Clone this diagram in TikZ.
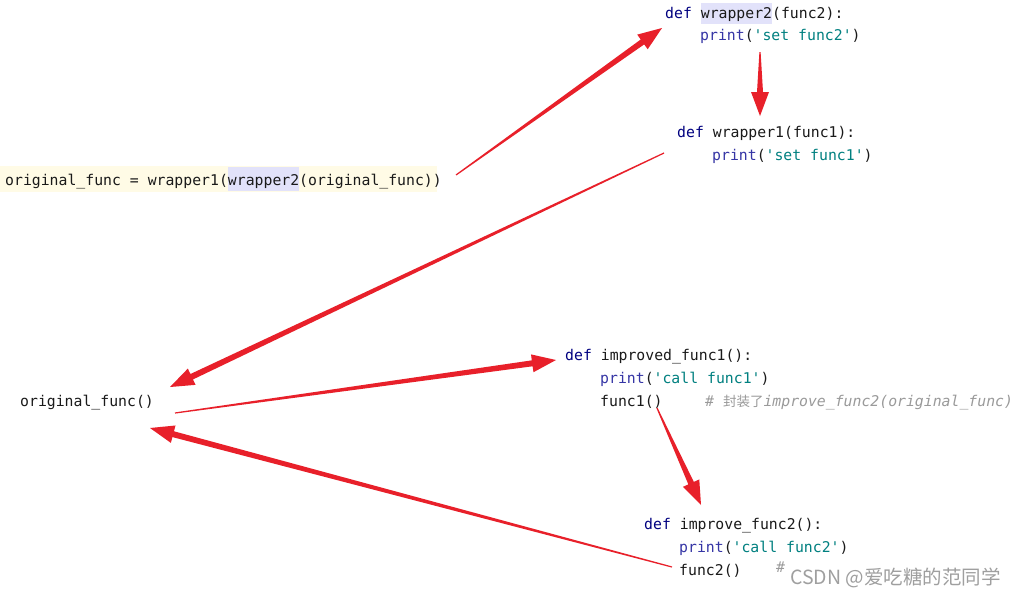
\documentclass[tikz,border=0pt]{standalone}
\usepackage{fontspec}
\setmonofont{DejaVu Sans Mono}
\newfontfamily\cjk{Noto Sans CJK SC}
\usetikzlibrary{calc}
\definecolor{kw}{HTML}{000080}
\definecolor{bi}{HTML}{3535A5}
\definecolor{st}{HTML}{008080}
\definecolor{cm}{HTML}{9A9A9A}
\definecolor{txt}{HTML}{1A1A1A}
\definecolor{hlY}{HTML}{FFFBE6}
\definecolor{hlL}{HTML}{E2E2FA}
\definecolor{arrowred}{HTML}{E8202A}
\newcommand\q{\char"27\relax}
\newcommand\hlbox[3]{{\setlength\fboxsep{0pt}\colorbox{hlL}{\rule[-#1]{0pt}{#2}#3}}}
\newcommand\taper[2]{%
  \coordinate (hb) at ($(#2)!24pt!(#1)$);
  \fill[arrowred] ($(#1)!0.6pt!90:(#2)$) -- ($(hb)!3pt!90:(#2)$) -- ($(hb)!9pt!90:(#2)$) -- (#2)
    -- ($(hb)!9pt!-90:(#2)$) -- ($(hb)!3pt!-90:(#2)$) -- ($(#1)!0.6pt!-90:(#2)$) -- cycle;}
\begin{document}
\begin{tikzpicture}[x=1pt,y=-1pt,
  code/.style={anchor=base west, inner sep=0pt, text=txt, font=\ttfamily\fontsize{14.8}{18}\selectfont},
  wm/.style={anchor=base west, inner sep=0pt, text=gray!75, font=\cjk\fontsize{19.5}{22}\selectfont}]
\useasboundingbox (0,0) rectangle (1017,595);
\fill[white] (0,0) rectangle (1017,595);
% yellow line background
\fill[hlY] (0,166) rectangle (437,192);
% code lines
\node[code] (w2def) at (665,18) {\textcolor{kw}{def} \hlbox{6pt}{21pt}{wrapper2}(func2):};
\node[code] (w2print) at (700,40) {\textcolor{bi}{print}(\textcolor{st}{\q set func2\q})};
\node[code] (w1def) at (677,137) {\textcolor{kw}{def} wrapper1(func1):};
\node[code] (w1print) at (712,160) {\textcolor{bi}{print}(\textcolor{st}{\q set func1\q})};
\node[code] (assign) at (5,185) {original\_func = wrapper1(\hlbox{6pt}{24pt}{wrapper2}(original\_func))};
\node[code] (orig) at (20,406) {original\_func()};
\node[code] (imp1def) at (565,360) {\textcolor{kw}{def} improved\_func1():};
\node[code] (imp1print) at (600,383) {\textcolor{bi}{print}(\textcolor{st}{\q call func1\q})};
\node[code] (imp1call) at (600,406) {func1()};
\node[code, text=cm] (imp1cmt) at (705,406) {\# {\cjk\fontsize{13.5}{18}\selectfont 封装了}\textit{improve\_func2(original\_func)}};
\node[code] (imp2def) at (644,529) {\textcolor{kw}{def} improve\_func2():};
\node[code] (imp2print) at (679,552) {\textcolor{bi}{print}(\textcolor{st}{\q call func2\q})};
\node[code] (imp2call) at (679,575) {func2()};
\node[code, text=cm] (imp2cmt) at (776,572) {\#};
\node[wm] (mark) at (790,584) {CSDN @爱吃糖的范同学};
% arrow end points
\coordinate (a1s) at (456,175);  \coordinate (a1e) at (662,28);
\coordinate (a2s) at (760,52);   \coordinate (a2e) at (760,116);
\coordinate (a3s) at (664,153);  \coordinate (a3e) at (170,387);
\coordinate (a4s) at (175,413);  \coordinate (a4e) at (556,360);
\coordinate (a5s) at (657,408);  \coordinate (a5e) at (701,505);
\coordinate (a6s) at (672,567);  \coordinate (a6e) at (150,428);
\taper{a1s}{a1e}
\taper{a2s}{a2e}
\taper{a3s}{a3e}
\taper{a4s}{a4e}
\taper{a5s}{a5e}
\taper{a6s}{a6e}
\end{tikzpicture}
\end{document}
